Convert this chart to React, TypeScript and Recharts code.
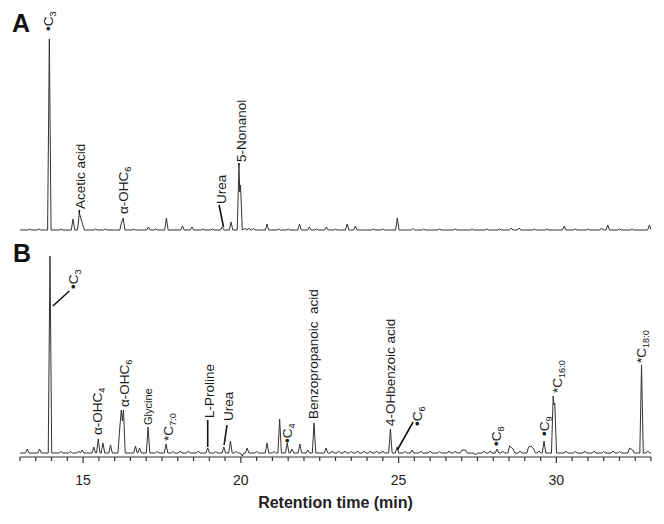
import React from 'react';
import { LineChart, Line, XAxis, YAxis, ReferenceDot, ReferenceLine } from 'recharts';

// Retention time (min) / intensity (arbitrary units) of the peak apices
const peaksA: [number, number][] = [
  [13.3, 1], [13.6, 1], [13.93, 191], [14.3, 1], [14.68, 11], [14.88, 17], [14.99, 5],
  [15.4, 1], [15.7, 1], [16.22, 8], [16.27, 12], [16.6, 1], [17.07, 3], [17.3, 1],
  [17.64, 12], [18.15, 4], [18.45, 3], [18.8, 1], [19.1, 1], [19.41, 3], [19.69, 8],
  [19.94, 64], [19.965, 38], [19.99, 45], [20.12, 2], [20.25, 2], [20.4, 1.5],
  [20.83, 6], [21.2, 1], [21.5, 1], [21.86, 6], [22.17, 3], [22.4, 1], [22.71, 3],
  [23.0, 1], [23.37, 6], [23.63, 4], [24.2, 1], [24.5, 1], [24.96, 12], [25.46, 1.5],
  [25.8, 1], [26.3, 1], [26.8, 1], [27.33, 1], [27.8, 1], [28.2, 1], [28.57, 2],
  [28.82, 2], [29.3, 1], [29.7, 1], [30.25, 4], [30.6, 1], [31.0, 1], [31.43, 2],
  [31.63, 5], [32.0, 1], [32.4, 1], [32.95, 5],
];

const peaksB: [number, number][] = [
  [13.23, 4], [13.62, 4], [13.95, 197], [14.3, 1.5], [14.6, 1.5], [14.86, 2], [14.97, 3],
  [15.34, 6], [15.48, 14], [15.63, 10], [15.87, 8], [16.16, 24], [16.21, 43], [16.245, 32],
  [16.28, 43], [16.66, 7], [16.79, 5], [17.06, 26], [17.35, 1.5], [17.63, 9], [17.85, 1.5],
  [18.08, 2], [18.34, 2], [18.65, 2], [18.95, 5], [19.2, 1.5], [19.46, 6], [19.67, 12],
  [19.85, 1.5], [20.04, -3], [20.2, 5], [20.5, 1.5], [20.83, 10], [21.05, 1.5], [21.23, 34],
  [21.47, 10], [21.62, 4], [21.87, 9], [22.12, 3], [22.32, 30], [22.7, 5], [22.9, 2],
  [23.1, 2], [23.3, 2], [23.5, 1.5], [23.7, 2], [23.9, 2], [24.1, 2], [24.3, 2], [24.5, 2],
  [24.74, 24], [24.95, 6], [25.2, 1.5], [25.43, 3], [25.7, 2], [26.0, 2], [26.3, 1.5],
  [26.6, 2], [26.8, 2], [27.01, 3], [27.12, 3], [27.44, -2], [27.7, 2], [27.9, 2],
  [28.12, 4], [28.3, 2], [28.52, 7], [28.63, 4], [28.85, 2], [29.12, 6], [29.2, 7],
  [29.28, 4], [29.45, 2], [29.61, 12], [29.9, 57], [29.925, 48], [29.95, 50], [30.3, 2],
  [30.6, 1.5], [30.9, 2], [31.2, 2], [31.5, 1.5], [31.8, 2], [32.0, 1.5], [32.32, 5],
  [32.42, 3], [32.7, 88], [32.9, 2],
];

const xTicks = [
  13, 13.5, 14, 14.5, 15, 15.5, 16, 16.5, 17, 17.5, 18, 18.5, 19, 19.5, 20, 20.5, 21, 21.5,
  22, 22.5, 23, 23.5, 24, 24.5, 25, 25.5, 26, 26.5, 27, 27.5, 28, 28.5, 29, 29.5, 30, 30.5,
  31, 31.5, 32, 32.5, 33,
];
const majorTicks = [15, 20, 25, 30];

type Lbl = { pre: string; sub?: string; t: number; v: number; small?: boolean };

const labelsA: Lbl[] = [
  { pre: '•C', sub: '3', t: 13.9, v: 199 },
  { pre: 'Acetic acid', t: 14.91, v: 21 },
  { pre: 'α-OHC', sub: '6', t: 16.27, v: 16 },
  { pre: 'Urea', t: 19.38, v: 26 },
  { pre: '5-Nonanol', t: 20.02, v: 68 },
];
const connectorsA: [number, number, number, number][] = [
  [14.88, 20, 14.88, 17],
  [19.31, 25, 19.45, 3],
  [19.94, 67, 19.94, 64],
];

const labelsB: Lbl[] = [
  { pre: '•C', sub: '3', t: 14.69, v: 164 },
  { pre: 'α-OHC', sub: '4', t: 15.45, v: 18 },
  { pre: 'α-OHC', sub: '6', t: 16.31, v: 46 },
  { pre: 'Glycine', t: 17.07, v: 28, small: true },
  { pre: '*C', sub: '7:0', t: 17.7, v: 12 },
  { pre: 'L-Proline', t: 19.0, v: 35 },
  { pre: 'Urea', t: 19.61, v: 32 },
  { pre: '•C', sub: '4', t: 21.48, v: 10 },
  { pre: 'Benzopropanoic\u00A0 acid', t: 22.3, v: 34 },
  { pre: '4-OHbenzoic acid', t: 24.74, v: 27 },
  { pre: '•C', sub: '6', t: 25.59, v: 27 },
  { pre: '•C', sub: '8', t: 28.1, v: 7 },
  { pre: '•C', sub: '9', t: 29.6, v: 17 },
  { pre: '*C', sub: '16:0', t: 30.03, v: 60 },
  { pre: '*C', sub: '18:0', t: 32.7, v: 90 },
];
const connectorsB: [number, number, number, number][] = [
  [14.04, 147, 14.565, 162],
  [18.95, 33, 18.95, 6],
  [19.56, 28, 19.47, 8],
  [24.96, 3, 25.46, 31],
];

// Build a polyline trace: each apex is joined to the baseline on both sides
function buildTrace(peaks: [number, number][], start: number, end: number, w = 0.055) {
  const pts: { t: number; v: number }[] = [{ t: start, v: 0 }];
  let prev: number | null = null;
  for (const [t, h] of peaks) {
    if (prev === null) {
      pts.push({ t: t - w, v: 0 });
    } else if (t - prev > 2 * w) {
      pts.push({ t: prev + w, v: 0 });
      pts.push({ t: t - w, v: 0 });
    }
    pts.push({ t, v: h });
    prev = t;
  }
  if (prev !== null) pts.push({ t: prev + w, v: 0 });
  pts.push({ t: end, v: 0 });
  return pts;
}

const traceA = buildTrace(peaksA, 13, 33);
const traceB = buildTrace(peaksB, 13, 33);

const FONT = 'Liberation Sans, Arial, Helvetica, sans-serif';

const VLabel = ({ cx, cy, lbl }: { cx: number; cy: number; lbl: Lbl }) => {
  const fs = lbl.small ? 11 : 13.5;
  const x = cx + fs * 0.36;
  return (
    <text
      x={x}
      y={cy}
      transform={`rotate(-90 ${x} ${cy})`}
      fontSize={fs}
      fontFamily={FONT}
      fill="#1a1a1a"
      style={{ whiteSpace: 'pre' }}
    >
      {lbl.pre}
      {lbl.sub ? (
        <tspan fontSize={fs * 0.68} dy={3}>
          {lbl.sub}
        </tspan>
      ) : null}
    </text>
  );
};

const AxisTick = (props: any) => {
  const { x, y, payload } = props;
  const major = majorTicks.includes(payload.value);
  return (
    <g>
      <line x1={x} x2={x} y1={y} y2={y + (major ? 6 : 4)} stroke="#333" strokeWidth={1.2} />
      {major ? (
        <text x={x} y={y + 28} textAnchor="middle" fontSize={14} fontFamily={FONT} fill="#222">
          {payload.value}
        </text>
      ) : null}
    </g>
  );
};

export default function App() {
  return (
    <div style={{ position: 'absolute', left: 0, top: 0, width: 664, height: 524, background: '#fff', fontFamily: FONT }}>
      <LineChart width={664} height={524} margin={{ top: 30, right: 13, bottom: 12, left: 20 }}>
        <XAxis
          dataKey="t"
          type="number"
          domain={[13, 33]}
          allowDataOverflow
          ticks={xTicks}
          interval={0}
          tickSize={0}
          tickMargin={0}
          tickLine={false}
          tick={<AxisTick />}
          height={55}
          axisLine={{ stroke: '#333', strokeWidth: 1.2 }}
          label={{
            value: 'Retention time (min)',
            position: 'insideBottom',
            offset: 4,
            fill: '#222',
            fontSize: 16,
            fontWeight: 'bold',
            fontFamily: FONT,
          }}
        />
        <YAxis yAxisId="a" hide domain={[-227, 200]} allowDataOverflow />
        <YAxis yAxisId="b" hide domain={[-4, 423]} allowDataOverflow />
        <Line
          yAxisId="a"
          data={traceA}
          dataKey="v"
          type="linear"
          stroke="#333"
          strokeWidth={1}
          dot={false}
          activeDot={false}
          isAnimationActive={false}
        />
        <Line
          yAxisId="b"
          data={traceB}
          dataKey="v"
          type="linear"
          stroke="#333"
          strokeWidth={1}
          dot={false}
          activeDot={false}
          isAnimationActive={false}
        />
        {connectorsA.map((c, i) => (
          <ReferenceLine
            key={'ca' + i}
            yAxisId="a"
            segment={[{ x: c[0], y: c[1] }, { x: c[2], y: c[3] }]}
            stroke="#111"
            strokeWidth={1.6}
            ifOverflow="visible"
          />
        ))}
        {connectorsB.map((c, i) => (
          <ReferenceLine
            key={'cb' + i}
            yAxisId="b"
            segment={[{ x: c[0], y: c[1] }, { x: c[2], y: c[3] }]}
            stroke="#111"
            strokeWidth={1.6}
            ifOverflow="visible"
          />
        ))}
        {labelsA.map((l, i) => (
          <ReferenceDot
            key={'la' + i}
            yAxisId="a"
            x={l.t}
            y={l.v}
            r={0}
            ifOverflow="visible"
            shape={(p: any) => <VLabel cx={p.cx} cy={p.cy} lbl={l} />}
          />
        ))}
        {labelsB.map((l, i) => (
          <ReferenceDot
            key={'lb' + i}
            yAxisId="b"
            x={l.t}
            y={l.v}
            r={0}
            ifOverflow="visible"
            shape={(p: any) => <VLabel cx={p.cx} cy={p.cy} lbl={l} />}
          />
        ))}
        <text x={12} y={32} fontSize={25} fontWeight="bold" fontFamily={FONT} fill="#111">A</text>
        <text x={13} y={262} fontSize={25} fontWeight="bold" fontFamily={FONT} fill="#111">B</text>
      </LineChart>
    </div>
  );
}
